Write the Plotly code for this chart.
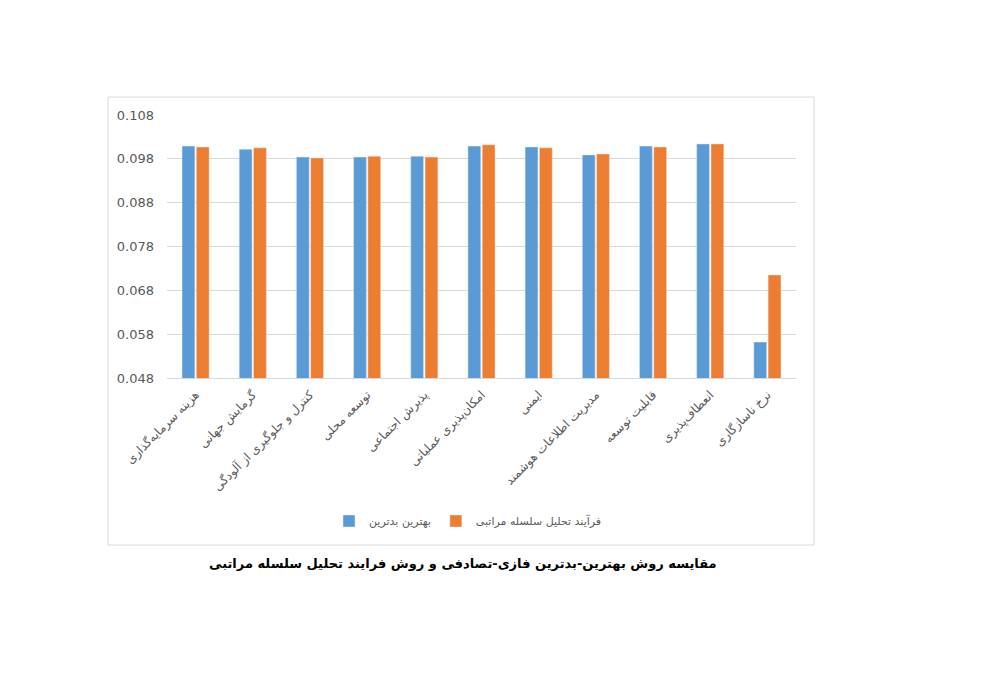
import plotly.graph_objects as go

categories = [
    "هزینه سرمایه‌گذاری",
    "گرمایش جهانی",
    "کنترل و جلوگیری از آلودگی",
    "توسعه محلی",
    "پذیرش اجتماعی",
    "امکان‌پذیری عملیاتی",
    "ایمنی",
    "مدیریت اطلاعات هوشمند",
    "قابلیت توسعه",
    "انعطاف‌پذیری",
    "نرخ ناسازگاری",
]
best_worst = [0.1009, 0.1002, 0.0984, 0.0984, 0.0986, 0.1009, 0.1007, 0.0989, 0.1009, 0.1014, 0.0562]
ahp = [0.1007, 0.1005, 0.0982, 0.0986, 0.0984, 0.1012, 0.1005, 0.0991, 0.1007, 0.1014, 0.0715]
y_ticks = [0.048, 0.058, 0.068, 0.078, 0.088, 0.098, 0.108]

# plot area in screen pixels: x 167..796, y 115..378 (page body adds 8px offset)
OFF = 8
L, R, T, B = 167, 796, 115, 378
W, H = 987, 685
pw, ph = R - L, B - T

def px(x):
    return (x - L) / pw

def py(y):
    return (B - y) / ph

fig = go.Figure()
fig.add_trace(go.Bar(x=categories, y=best_worst, name="بهترین بدترین",
                     marker=dict(color="#5B9BD5")))
fig.add_trace(go.Bar(x=categories, y=ahp, name="فرآیند تحلیل سلسله مراتبی",
                     marker=dict(color="#ED7D31")))

fig.update_layout(
    width=W, height=H,
    margin=dict(l=L - OFF, r=W - R + OFF, t=T - OFF, b=H - B + OFF),
    paper_bgcolor="white", plot_bgcolor="white",
    barmode="group", bargap=0.5, bargroupgap=0.1,
    font=dict(family="DejaVu Sans", color="#595959"),
    showlegend=True,
    legend=dict(orientation="h", x=px(468), y=py(521), xanchor="center", yanchor="middle",
                font=dict(size=11, color="#595959"), itemwidth=30, traceorder="normal"),
)
fig.update_yaxes(range=[0.048, 0.108], tickvals=y_ticks, tickformat=".3f",
                 showgrid=True, gridcolor="#D9D9D9", gridwidth=1, zeroline=False,
                 tickfont=dict(size=13, color="#595959", family="DejaVu Sans"),
                 ticklabelstandoff=12)
fig.update_xaxes(tickangle=-45, showline=True, linecolor="#D9D9D9", linewidth=1,
                 tickfont=dict(size=12, color="#595959", family="DejaVu Sans"),
                 ticklabelstandoff=4)

# chart border
fig.add_shape(type="rect", xref="paper", yref="paper",
              x0=px(108), x1=px(814), y0=py(545), y1=py(97),
              line=dict(color="#D9D9D9", width=1), fillcolor="rgba(0,0,0,0)", layer="below")

fig.add_annotation(text="<b>مقایسه روش بهترین-بدترین فازی-تصادفی و روش فرایند تحلیل سلسله مراتبی</b>",
                   xref="paper", yref="paper", x=px(463), y=py(563), showarrow=False,
                   xanchor="center", yanchor="middle",
                   font=dict(size=13, color="black", family="DejaVu Sans"))

fig.write_html("out.html")
